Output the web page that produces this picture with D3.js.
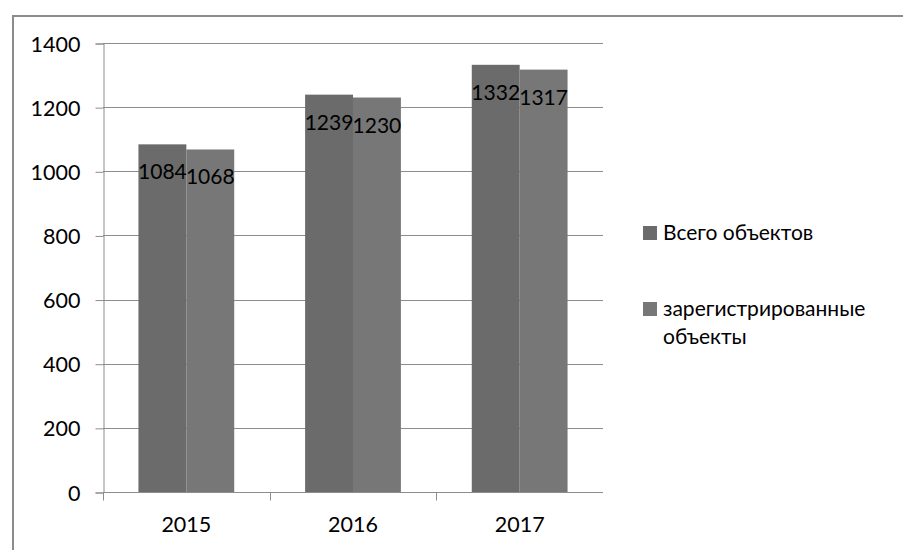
<!DOCTYPE html>
<html>
<head>
<meta charset="utf-8">
<script src="https://cdn.jsdelivr.net/npm/d3@7"></script>
<style>
  body { margin: 0; background: #fff; }
  svg text { font-family: Lato, "Open Sans", sans-serif; fill: #000; }
</style>
</head>
<body>
<div class="chart"></div>
<script>
// data
const years = ["2015", "2016", "2017"];
const seriesNames = ["Всего объектов", "зарегистрированные объекты"];
const totalObjects = [1084, 1239, 1332];
const registeredObjects = [1068, 1230, 1317];
const yTicks = [0, 200, 400, 600, 800, 1000, 1200, 1400];

const colors = ["#6b6b6b", "#777777"];

const W = 903, H = 550;
const plotLeft = 103, plotRight = 603, plotTop = 43, plotBottom = 492;

const svg = d3.select(".chart").append("svg")
	.attr("width", W)
	.attr("height", H);

// outer frame (left and top edges are visible)
svg.append("path")
	.attr("d", "M13 550 V16 H903")
	.style("fill", "none")
	.style("stroke", "#8c8c8c")
	.style("stroke-width", 2);

const x0 = d3.scaleBand().domain(years).range([plotLeft, plotRight]).padding(0);
const x1 = d3.scaleBand().domain([0, 1])
	.range([0, x0.bandwidth()])
	.paddingInner(0)
	.paddingOuter(0.74);
const y = d3.scaleLinear().domain([0, 1400]).range([plotBottom, plotTop]);

// gridlines
svg.selectAll("line.grid")
	.data(yTicks.slice(1))
	.enter()
	.append("line")
	.attr("class", "grid")
	.attr("x1", plotLeft)
	.attr("x2", plotRight)
	.attr("y1", (d) => Math.round(y(d)) + 0.5)
	.attr("y2", (d) => Math.round(y(d)) + 0.5)
	.style("stroke", "#8c8c8c")
	.style("stroke-width", 1);

// y axis
const yAxis = svg.append("g")
	.attr("transform", "translate(" + (plotLeft + 0.5) + ",0.5)")
	.call(d3.axisLeft(y).tickValues(yTicks).tickSize(8).tickPadding(15).tickFormat(d3.format("d")));
yAxis.attr("font-family", null).attr("font-size", null);
yAxis.select(".domain").attr("stroke", "#8c8c8c");
yAxis.selectAll(".tick line").attr("stroke", "#8c8c8c");
yAxis.selectAll(".tick text")
	.attr("font-size", "21.5px")
	.attr("dy", "0.35em")
	.style("fill", "#000");

// x axis, ticks on category boundaries
const xAxis = svg.append("g")
	.attr("transform", "translate(0," + (Math.round(plotBottom) + 0.5) + ")");
xAxis.append("line")
	.attr("x1", plotLeft)
	.attr("x2", plotRight)
	.style("stroke", "#8c8c8c");
xAxis.selectAll("line.xt")
	.data(years)
	.enter()
	.append("line")
	.attr("class", "xt")
	.attr("x1", (d) => Math.round(x0(d)) + 0.5)
	.attr("x2", (d) => Math.round(x0(d)) + 0.5)
	.attr("y1", 0)
	.attr("y2", 8)
	.style("stroke", "#8c8c8c");
xAxis.selectAll("text")
	.data(years)
	.enter()
	.append("text")
	.attr("x", (d) => x0(d) + x0.bandwidth() / 2)
	.attr("y", 39)
	.attr("text-anchor", "middle")
	.attr("font-size", "21.5px")
	.text((d) => d);

// bars
const rows = years.map((yr, i) => ({ year: yr, values: [totalObjects[i], registeredObjects[i]] }));

const groups = svg.selectAll("g.year")
	.data(rows)
	.enter()
	.append("g")
	.attr("class", "year")
	.attr("transform", (d) => "translate(" + x0(d.year) + ",0)");

groups.selectAll("rect")
	.data((d) => d.values)
	.enter()
	.append("rect")
	.attr("x", (d, i) => x1(i))
	.attr("y", (d) => y(d))
	.attr("width", x1.bandwidth())
	.attr("height", (d) => y(0) - y(d))
	.style("fill", (d, i) => colors[i]);

groups.selectAll("text")
	.data((d) => d.values)
	.enter()
	.append("text")
	.attr("x", (d, i) => x1(i) + x1.bandwidth() / 2)
	.attr("y", (d) => y(d) + 35)
	.attr("text-anchor", "middle")
	.attr("font-size", "21px")
	.text((d) => d);

// legend
const legend = svg.append("g").attr("transform", "translate(643,0)");
const legendRows = [
	{ lines: ["Всего объектов"], y: 240 },
	{ lines: ["зарегистрированные", "объекты"], y: 316 }
];
legendRows.forEach((row, i) => {
	legend.append("rect")
		.attr("x", 0)
		.attr("y", row.y - 14)
		.attr("width", 14)
		.attr("height", 14)
		.style("fill", colors[i]);
	const t = legend.append("text")
		.attr("x", 20)
		.attr("y", row.y)
		.attr("font-size", "21px");
	row.lines.forEach((ln, j) => {
		t.append("tspan")
			.attr("x", 20)
			.attr("dy", j === 0 ? 0 : 28)
			.text(ln);
	});
});
</script>
</body>
</html>
